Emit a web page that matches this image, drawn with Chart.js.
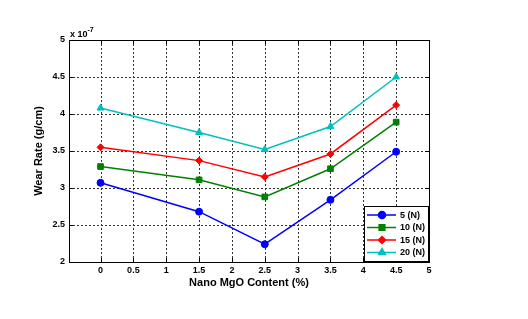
<!DOCTYPE html>
<html>
<head>
<meta charset="utf-8">
<script src="https://cdn.jsdelivr.net/npm/chart.js@4/dist/chart.umd.min.js"></script>
<style>
html,body{margin:0;padding:0;background:#fff;}
#wrap{width:528px;height:319px;}
</style>
</head>
<body>
<div id="wrap"><canvas id="c" width="528" height="319"></canvas></div>
<script>
const mgoContent = [0, 1.5, 2.5, 3.5, 4.5];
const load5N  = [3.07, 2.68, 2.24, 2.84, 3.49];
const load10N = [3.29, 3.11, 2.88, 3.26, 3.89];
const load15N = [3.55, 3.37, 3.15, 3.46, 4.12];
const load20N = [4.08, 3.75, 3.52, 3.83, 4.50];
const seriesLabels = ['5 (N)', '10 (N)', '15 (N)', '20 (N)'];
const xTickValues = [0, 0.5, 1, 1.5, 2, 2.5, 3, 3.5, 4, 4.5, 5];
const yTickValues = [2, 2.5, 3, 3.5, 4, 4.5, 5];
const xTitle = 'Nano MgO Content (%)';
const yTitle = 'Wear Rate (g/cm)';

const FONT = '"Liberation Sans", Arial, sans-serif';
const colors = ['#0000ff', '#008000', '#ff0000', '#00bfbf'];
const markers = ['circle', 'rect', 'rectRot', 'triangle'];
const radii = [3.5, 4, 3.5, 4];
const allSeries = [load5N, load10N, load15N, load20N];

const datasets = allSeries.map((s, i) => ({
  label: seriesLabels[i],
  data: mgoContent.map((x, j) => ({x: x, y: s[j]})),
  borderColor: colors[i],
  backgroundColor: colors[i],
  borderWidth: 1.5,
  pointStyle: markers[i],
  pointRadius: radii[i],
  pointBorderWidth: 1,
  tension: 0
}));

const gridPlugin = {
  id: 'gridPlugin',
  beforeDatasetsDraw(chart) {
    const ctx = chart.ctx;
    const a = chart.chartArea;
    const xs = chart.scales.x, ys = chart.scales.y;
    ctx.save();
    ctx.strokeStyle = '#333';
    ctx.lineWidth = 1;
    ctx.setLineDash([2, 2]);
    ctx.beginPath();
    xTickValues.forEach(v => {
      const px = Math.round(xs.getPixelForValue(v)) + 0.5;
      ctx.moveTo(px, a.top); ctx.lineTo(px, a.bottom);
    });
    yTickValues.forEach(v => {
      const py = Math.round(ys.getPixelForValue(v)) + 0.5;
      ctx.moveTo(a.left, py); ctx.lineTo(a.right, py);
    });
    ctx.stroke();
    ctx.restore();
  }
};

const decor = {
  id: 'decor',
  afterDraw(chart) {
    const ctx = chart.ctx;
    const a = chart.chartArea;
    const xs = chart.scales.x, ys = chart.scales.y;
    ctx.save();
    ctx.strokeStyle = '#000';
    ctx.lineWidth = 1;
    ctx.beginPath();
    xTickValues.forEach(v => {
      const px = Math.round(xs.getPixelForValue(v)) + 0.5;
      ctx.moveTo(px, a.bottom); ctx.lineTo(px, a.bottom - 4);
      ctx.moveTo(px, a.top); ctx.lineTo(px, a.top + 4);
    });
    yTickValues.forEach(v => {
      const py = Math.round(ys.getPixelForValue(v)) + 0.5;
      ctx.moveTo(a.left, py); ctx.lineTo(a.left + 4, py);
      ctx.moveTo(a.right, py); ctx.lineTo(a.right - 4, py);
    });
    ctx.stroke();
    ctx.strokeRect(Math.round(a.left) + 0.5, Math.round(a.top) + 0.5,
                   Math.round(a.right - a.left), Math.round(a.bottom - a.top));
    // exponent
    ctx.fillStyle = '#000';
    ctx.font = 'bold 9px ' + FONT;
    ctx.textAlign = 'left';
    ctx.textBaseline = 'alphabetic';
    ctx.fillText('x 10', a.left + 1, a.top - 3);
    const w = ctx.measureText('x 10').width;
    ctx.font = 'bold 7px ' + FONT;
    ctx.fillText('-7', a.left + 1 + w, a.top - 8);
    // axis titles
    ctx.font = 'bold 11px ' + FONT;
    ctx.textAlign = 'center';
    ctx.textBaseline = 'middle';
    ctx.fillText(xTitle, (a.left + a.right) / 2, a.bottom + 21);
    ctx.save();
    ctx.translate(a.left - 30, (a.top + a.bottom) / 2);
    ctx.rotate(-Math.PI / 2);
    ctx.fillText(yTitle, 0, 0);
    ctx.restore();
    // legend
    const lx = a.right - 65, ly = a.bottom - 56, lw = 64, lh = 55;
    ctx.fillStyle = '#fff';
    ctx.fillRect(lx, ly, lw, lh);
    ctx.strokeStyle = '#000';
    ctx.lineWidth = 1;
    ctx.strokeRect(Math.round(lx) + 0.5, Math.round(ly) + 0.5, lw, lh);
    ctx.textAlign = 'left';
    chart.data.datasets.forEach((ds, i) => {
      const y = ly + 9 + i * 12.5;
      ctx.strokeStyle = ds.borderColor;
      ctx.lineWidth = 1.5;
      ctx.beginPath();
      ctx.moveTo(lx + 3, y); ctx.lineTo(lx + 32, y);
      ctx.stroke();
      ctx.fillStyle = ds.backgroundColor;
      Chart.helpers.drawPoint(ctx, {pointStyle: ds.pointStyle, radius: ds.pointRadius, borderWidth: 1}, lx + 18, y);
      ctx.fillStyle = '#000';
      ctx.font = 'bold 9px ' + FONT;
      ctx.textBaseline = 'middle';
      ctx.fillText(ds.label, lx + 36, y + 0.5);
    });
    ctx.restore();
  }
};

new Chart(document.getElementById('c'), {
  type: 'line',
  data: {datasets},
  plugins: [gridPlugin, decor],
  options: {
    responsive: false,
    animation: false,
    layout: {padding: {left: 0, right: 99, top: 40, bottom: 0}},
    plugins: {legend: {display: false}, tooltip: {enabled: false}},
    scales: {
      x: {
        type: 'linear',
        min: -0.48, max: 5,
        afterBuildTicks: s => { s.ticks = xTickValues.map(v => ({value: v})); },
        afterFit: s => { s.height = 57; },
        grid: {display: false, drawTicks: false},
        border: {display: false},
        ticks: {color: '#000', font: {family: FONT, size: 9, weight: 'bold'}, padding: 3, maxRotation: 0,
                callback: v => String(v)}
      },
      y: {
        type: 'linear',
        min: 2, max: 5,
        afterBuildTicks: s => { s.ticks = yTickValues.map(v => ({value: v})); },
        afterFit: s => { s.width = 69; },
        grid: {display: false, drawTicks: false},
        border: {display: false},
        ticks: {color: '#000', font: {family: FONT, size: 9, weight: 'bold'}, padding: 4,
                callback: v => String(v)}
      }
    }
  }
});
</script>
</body>
</html>
